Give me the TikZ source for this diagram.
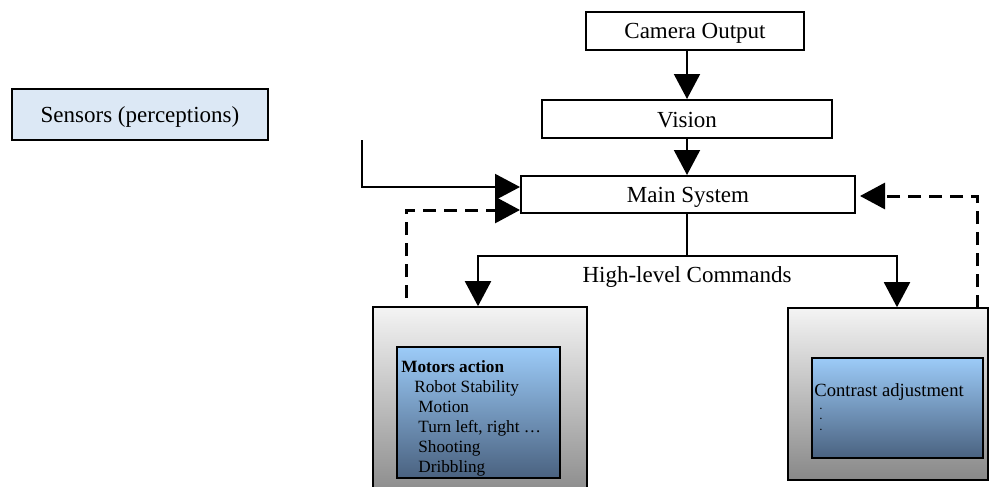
\documentclass[tikz,border=0pt]{standalone}
\usepackage{fontspec}
\setmainfont{Liberation Serif}
\usetikzlibrary{arrows.meta,calc}
\definecolor{grayTop}{HTML}{F4F4F4}
\definecolor{grayBot}{HTML}{888888}
\definecolor{blueTop}{HTML}{9CCBF8}
\definecolor{blueBot}{HTML}{4A6280}
\definecolor{sensFill}{HTML}{DCE8F5}
\begin{document}
\begin{tikzpicture}[x=0.5pt,y=-0.5pt,
  box/.style={draw,line width=1pt,inner sep=0pt,text height=8pt,text depth=0pt,font=\fontsize{11.5}{13}\selectfont},
  arr/.style={line width=1pt,-{Triangle[length=12.5pt,width=13pt]}},
  ln/.style={line width=1pt},
  dsh/.style={line width=1.5pt,dash pattern=on 6.5pt off 4pt},
  graybox/.style={draw,line width=0.8pt,inner sep=0pt,top color=grayTop,bottom color=grayBot},
  bluebox/.style={draw,line width=1pt,inner sep=0pt,top color=blueTop,bottom color=blueBot},
  lbl/.style={inner sep=0pt,font=\fontsize{11.5}{13}\selectfont},
  dot/.style={inner sep=0pt,font=\fontsize{4.5}{5}\bfseries\selectfont}
]
\useasboundingbox (0,0) rectangle (992,487);
\clip (0,0) rectangle (992,487);

% boxes
\node[box,fill=sensFill,minimum width=128pt,minimum height=25.5pt] (sens) at (140,114.5) {Sensors (perceptions)};
\node[box,minimum width=109pt,minimum height=19pt] (cam) at (695,31) {Camera Output};
\node[box,minimum width=145pt,minimum height=19pt] (vis) at (687,119) {Vision};
\node[box,minimum width=167pt,minimum height=18.5pt] (main) at (688,194.5) {Main System};

\node[graybox,minimum width=107pt,minimum height=96.5pt] (lg) at (480,403.5) {};
\node[bluebox,minimum width=81.5pt,minimum height=65.5pt] (lb) at (478.5,412.5) {};
\node[graybox,minimum width=100pt,minimum height=86pt] (rg) at (888,394) {};
\node[bluebox,minimum width=85.5pt,minimum height=50pt] (rb) at (897.5,408) {};

% texts inside the blue boxes
\begin{scope}
\clip (lb.north west) rectangle (lb.south east);
\node[anchor=north west,inner sep=0pt,align=left,font=\fontsize{8.6}{10}\selectfont] (mot) at (401,360)
 {\textbf{Motors action}\\
  \hspace*{6.5pt}Robot Stability\\
  \hspace*{8.5pt}Motion\\
  \hspace*{8.5pt}Turn left, right \dots\\
  \hspace*{8.5pt}Shooting\\
  \hspace*{8.5pt}Dribbling};
\end{scope}
\node[anchor=west,inner sep=0pt,font=\fontsize{9.3}{11}\selectfont] (con) at (814,392) {Contrast adjustment};
\node[dot] (dt1) at (821,409) {.};
\node[dot] (dt2) at (821,419) {.};
\node[dot] (dt3) at (821,430) {.};

% connectors
\draw[arr] (cam.south -| vis.north) -- (vis.north);
\draw[arr] (vis.south) -- (vis.south |- main.north);
\coordinate (s1) at (362,140);
\draw[arr] (s1) |- ([yshift=3.75pt]main.west);
\coordinate (d1) at (406,298);
\draw[dsh,-{Triangle[length=12.5pt,width=13pt]}] (d1) |- ([yshift=-7.75pt]main.west);
\coordinate (d2) at (977,308);
\draw[dsh,-{Triangle[length=12.5pt,width=13pt]}] (d2) |- ([xshift=2pt,yshift=-0.75pt]main.east);

\coordinate (br) at (687,256);
\draw[ln] (main.south -| br) -- (br);
\draw[arr] (br) -| ([xshift=-1pt]lg.north);
\draw[arr] (br) -| ([xshift=4.5pt]rg.north);
\node[lbl] (hlc) at (687,277) {High-level Commands};
\end{tikzpicture}
\end{document}
